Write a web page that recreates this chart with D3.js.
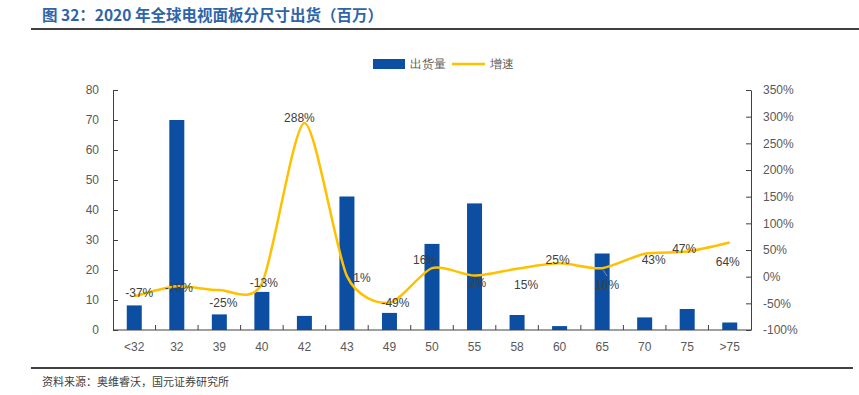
<!DOCTYPE html>
<html>
<head>
<meta charset="utf-8">
<script src="https://cdn.jsdelivr.net/npm/d3@7"></script>
<style>
body { margin:0; background:#fff; }
text { font-family: "Liberation Sans", Arial, sans-serif; }
</style>
</head>
<body>
<div id="d3area"></div>
<script>
var categories = ["<32","32","39","40","42","43","49","50","55","58","60","65","70","75",">75"];
var shipments = [8.2, 70, 5.2, 12.7, 4.7, 44.5, 5.7, 28.7, 42.2, 5, 1.3, 25.5, 4.2, 7, 2.5];
var growth = [-37, -18, -25, -13, 288, 1, -49, 16, 2, 15, 25, 16, 43, 47, 64];
var leftTicks = [0, 10, 20, 30, 40, 50, 60, 70, 80];
var rightTicks = [-100, -50, 0, 50, 100, 150, 200, 250, 300, 350];

// label offsets from the point (dx, dy of text centre)
var labelOffset = [[5,-4],[2,2],[4,13],[2,-1],[-5,-5],[15,2],[6,0],[-7,-8],[3,7],[9,16],[-2,-4],[5,17],[9,6],[-3,-3],[-2,19]];

var svgSize = {w:859, h:395};
var plot = {left:113, right:751, top:90, bottom:330};

var svg = d3.select("#d3area").append("svg")
	.attr("width", svgSize.w)
	.attr("height", svgSize.h);

// title
svg.append("text")
	.attr("x", 42).attr("y", 21)
	.style("font-family", "'Noto Sans CJK SC', sans-serif")
	.style("font-size", "15.5px").style("font-weight", "bold")
	.style("fill", "#2e64a8")
	.text("图 32：2020 年全球电视面板分尺寸出货（百万）");
svg.append("line").attr("x1", 31).attr("x2", 859).attr("y1", 29).attr("y2", 29)
	.style("stroke", "#000").style("stroke-width", 1.5);

var x = d3.scaleBand().domain(categories).range([plot.left, plot.right]).paddingInner(0).paddingOuter(0);
var yL = d3.scaleLinear().domain([0, 80]).range([plot.bottom, plot.top]);
var yR = d3.scaleLinear().domain([-100, 350]).range([plot.bottom, plot.top]);

// bars
svg.append("g").selectAll("rect").data(shipments).enter().append("rect")
	.attr("x", function(d, i){ return x(categories[i]) + x.bandwidth()/2 - 7.5; })
	.attr("width", 15)
	.attr("y", function(d){ return yL(d); })
	.attr("height", function(d){ return plot.bottom - yL(d); })
	.style("fill", "#0b4ea2");

// axes
var axL = svg.append("g").attr("transform", "translate(" + plot.left + ",0)")
	.call(d3.axisLeft(yL).tickValues(leftTicks).tickSizeInner(-5).tickSizeOuter(0).tickPadding(14));
var axR = svg.append("g").attr("transform", "translate(" + plot.right + ",0)")
	.call(d3.axisRight(yR).tickValues(rightTicks).tickSizeInner(-5).tickSizeOuter(0).tickPadding(14)
		.tickFormat(function(d){ return d + "%"; }));
var axB = svg.append("g").attr("transform", "translate(0," + plot.bottom + ")")
	.call(d3.axisBottom(x).tickSize(0).tickPadding(12));
axB.selectAll(".domain").attr("d", "M" + plot.left + ",0H" + plot.right);
// boundary ticks between categories
axB.selectAll(".sep").data(categories.slice(1)).enter().append("line")
	.attr("class", "sep")
	.attr("x1", function(d){ return x(d); }).attr("x2", function(d){ return x(d); })
	.attr("y1", 0).attr("y2", -5).style("stroke", "#404040");

[axL, axR, axB].forEach(function(a){
	a.selectAll(".domain").style("stroke", "#404040");
	a.selectAll(".tick line").style("stroke", "#404040");
	a.selectAll("text").style("font-size", "12px").style("fill", "#595959")
		.style("font-family", "'Liberation Sans', Arial, sans-serif");
});
axR.selectAll("text").attr("x", 12);

// line
var line = d3.line()
	.x(function(d, i){ return x(categories[i]) + x.bandwidth()/2; })
	.y(function(d){ return yR(d); })
	.curve(d3.curveCardinal.tension(0.25));
svg.append("path").datum(growth)
	.attr("d", line)
	.style("fill", "none").style("stroke", "#ffc000").style("stroke-width", 2.5);

// leader line for the displaced label at 65
var iLead = categories.indexOf("65");
svg.append("line")
	.attr("x1", x("65") + x.bandwidth()/2 + 1).attr("y1", yR(growth[iLead]) + 2)
	.attr("x2", x("65") + x.bandwidth()/2 + 5).attr("y2", yR(growth[iLead]) + 8)
	.style("stroke", "#8c8c8c").style("stroke-width", 1);

// data labels
svg.append("g").selectAll("text").data(growth).enter().append("text")
	.attr("x", function(d, i){ return x(categories[i]) + x.bandwidth()/2 + labelOffset[i][0]; })
	.attr("y", function(d, i){ return yR(d) + labelOffset[i][1]; })
	.attr("dy", "0.35em")
	.attr("text-anchor", "middle")
	.style("font-size", "12px").style("fill", "#404040")
	.text(function(d){ return d + "%"; });

// legend
var lg = svg.append("g").style("font-family", "'Noto Sans CJK SC', sans-serif");
lg.append("rect").attr("x", 373).attr("y", 59).attr("width", 32).attr("height", 10).style("fill", "#0b4ea2");
lg.append("text").attr("x", 410).attr("y", 68).style("font-size", "12px").style("fill", "#595959").text("出货量");
lg.append("line").attr("x1", 452).attr("x2", 485).attr("y1", 64).attr("y2", 64)
	.style("stroke", "#ffc000").style("stroke-width", 2.5);
lg.append("text").attr("x", 490).attr("y", 68).style("font-size", "12px").style("fill", "#595959").text("增速");

// footer
svg.append("line").attr("x1", 31).attr("x2", 853).attr("y1", 368).attr("y2", 368)
	.style("stroke", "#000").style("stroke-width", 1.5);
svg.append("text").attr("x", 42).attr("y", 386)
	.style("font-family", "'Noto Sans CJK SC', sans-serif")
	.style("font-size", "11px").style("fill", "#404040")
	.text("资料来源：奥维睿沃，国元证券研究所");
</script>
</body>
</html>
